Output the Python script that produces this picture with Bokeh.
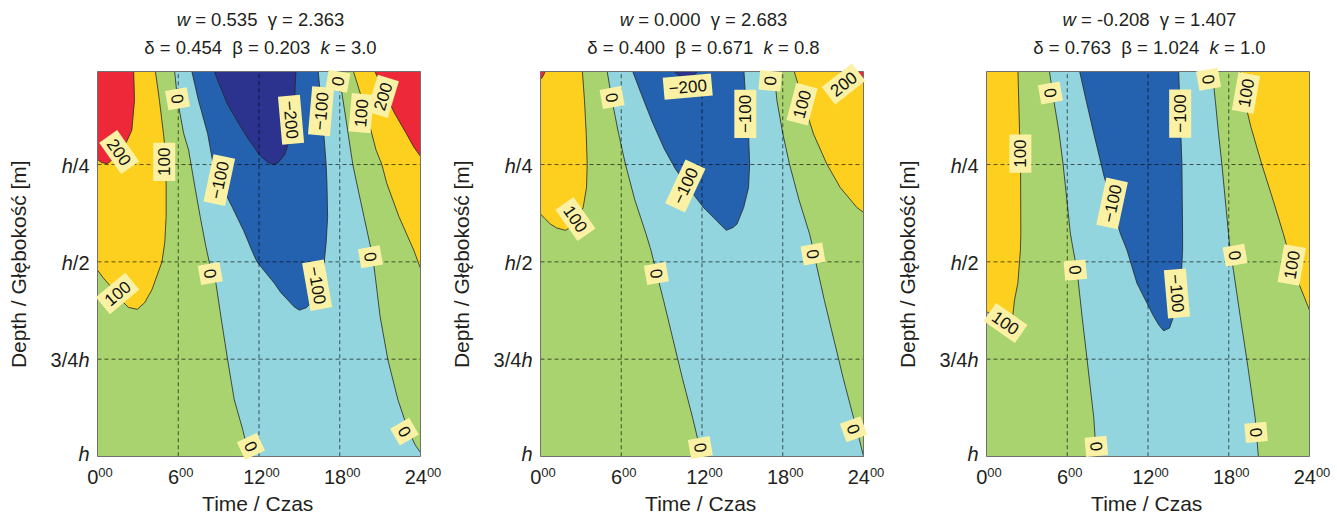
import math
from bokeh.plotting import figure
from bokeh.layouts import row
from bokeh.models import Range1d, Label
from bokeh.embed import file_html
from bokeh.resources import INLINE

# ---------------------------------------------------------------- data
# contour curves, (time [h], relative depth z/h) pairs
P1_R_LEFT = [(2.68, 0.0), (2.75, 0.085), (2.55, 0.162), (2.1, 0.196), (1.4, 0.228),
             (0.74, 0.248), (0.3, 0.245), (0.0, 0.237)]
P1_Y_LEFT = [(4.26, 0.0), (4.6, 0.085), (4.9, 0.17), (5.03, 0.213), (5.1, 0.3), (5.1, 0.384),
             (5.0, 0.45), (4.79, 0.5), (4.04, 0.572), (3.5, 0.605), (2.95, 0.622), (2.3, 0.617),
             (1.8, 0.6), (1.0, 0.564), (0.4, 0.54), (0.0, 0.521)]
P1_Z_LEFT = [(5.7, 0.0), (5.95, 0.085), (6.4, 0.17), (6.77, 0.213), (7.2, 0.3), (7.63, 0.384),
             (8.05, 0.46), (8.3, 0.5), (8.8, 0.555), (9.17, 0.641), (9.67, 0.752), (10.16, 0.854),
             (10.79, 0.931), (11.28, 1.0)]
P1_B_LOOP = [(6.94, 0.0), (7.5, 0.085), (8.18, 0.17), (8.6, 0.25), (9.3, 0.31), (9.99, 0.358),
             (10.86, 0.42), (11.46, 0.47), (11.85, 0.5), (12.55, 0.53), (13.14, 0.555),
             (13.6, 0.578), (14.14, 0.598), (14.6, 0.615), (15.0, 0.624), (15.5, 0.618),
             (16.1, 0.598), (16.5, 0.572), (16.7, 0.54), (16.85, 0.5), (16.99, 0.45),
             (17.1, 0.384), (17.05, 0.3), (16.99, 0.25), (16.7, 0.12), (16.37, 0.0)]
P1_N_LOOP = [(8.56, 0.0), (9.0, 0.04), (9.67, 0.096), (10.5, 0.145), (11.16, 0.182),
             (12.03, 0.225), (12.6, 0.243), (13.02, 0.25), (13.4, 0.246), (13.9, 0.225),
             (14.33, 0.182), (14.63, 0.096), (14.75, 0.0)]
P1_Z_RIGHT = [(17.86, 0.0), (18.4, 0.12), (18.97, 0.25), (19.4, 0.32), (19.8, 0.384),
              (20.34, 0.47), (20.5, 0.5), (20.7, 0.555), (21.0, 0.641), (21.58, 0.752),
              (22.32, 0.854), (23.07, 0.931), (23.6, 0.97), (24.0, 0.99)]
P1_Y_RIGHT = [(18.92, 0.0), (20.0, 0.12), (20.7, 0.213), (21.13, 0.25), (21.5, 0.299),
              (22.4, 0.384), (23.5, 0.47), (24.0, 0.517)]
P1_R_RIGHT = [(20.46, 0.0), (22.07, 0.118), (22.94, 0.17), (23.5, 0.205), (24.0, 0.229)]

P2_R_LEFT = [(0.45, 0.0), (0.3, 0.015), (0.12, 0.027), (0.0, 0.031)]
P2_Y_LEFT = [(3.09, 0.0), (3.27, 0.086), (3.4, 0.172), (3.47, 0.249), (3.42, 0.309),
             (3.17, 0.36), (2.6, 0.403), (1.86, 0.419), (1.2, 0.413), (0.74, 0.403),
             (0.3, 0.388), (0.0, 0.377)]
P2_Z_LEFT = [(4.9, 0.0), (5.32, 0.086), (5.8, 0.17), (6.31, 0.249), (7.0, 0.34), (7.85, 0.429),
             (8.22, 0.472), (8.42, 0.5), (9.15, 0.6), (9.85, 0.7), (10.55, 0.8), (11.3, 0.9),
             (11.99, 1.0)]
P2_B_LOOP = [(6.73, 0.0), (7.5, 0.07), (8.3, 0.14), (9.2, 0.21), (10.0, 0.26), (11.0, 0.31),
             (12.1, 0.36), (13.1, 0.395), (13.8, 0.419), (14.3, 0.412), (14.6, 0.403),
             (15.1, 0.36), (15.46, 0.309), (15.54, 0.249), (15.46, 0.172), (15.25, 0.086),
             (15.1, 0.0)]
P2_N_LOOP = [(9.6, 0.0), (10.2, 0.02), (10.8, 0.028), (11.4, 0.02), (12.0, 0.0)]
P2_Z_RIGHT = [(17.32, 0.0), (17.57, 0.086), (18.0, 0.17), (18.5, 0.249), (19.2, 0.34),
              (20.0, 0.429), (20.29, 0.472), (20.45, 0.5), (21.1, 0.6), (21.8, 0.7),
              (22.5, 0.8), (23.26, 0.9), (23.65, 0.95), (24.0, 1.0)]
P2_Y_RIGHT = [(18.76, 0.0), (19.5, 0.086), (20.29, 0.172), (21.28, 0.249), (22.27, 0.309),
              (23.5, 0.36), (24.0, 0.373)]
P2_R_RIGHT = [(21.4, 0.0), (22.3, 0.012), (23.2, 0.025), (24.0, 0.04)]

P3_Y_LEFT = [(2.33, 0.0), (2.46, 0.17), (2.53, 0.249), (2.55, 0.427), (2.52, 0.47),
             (2.33, 0.555), (2.08, 0.598), (1.95, 0.64), (1.6, 0.648), (1.0, 0.645),
             (0.5, 0.637), (0.0, 0.628)]
P3_Z_LEFT = [(4.63, 0.0), (5.0, 0.085), (5.4, 0.17), (5.69, 0.249), (6.0, 0.35), (6.23, 0.427),
             (6.45, 0.47), (6.73, 0.522), (7.1, 0.64), (7.47, 0.75), (7.97, 0.9), (8.16, 1.0)]
P3_B_LOOP = [(6.85, 0.0), (7.4, 0.085), (7.97, 0.17), (8.75, 0.282), (9.4, 0.36), (9.94, 0.427),
             (10.44, 0.47), (11.18, 0.555), (12.42, 0.64), (12.8, 0.662), (13.16, 0.677),
             (13.6, 0.67), (13.9, 0.64), (14.2, 0.6), (14.45, 0.555), (14.57, 0.47),
             (14.57, 0.427), (14.52, 0.249), (14.44, 0.17), (14.27, 0.0)]
P3_Z_RIGHT = [(16.74, 0.0), (17.0, 0.085), (17.24, 0.17), (17.49, 0.249), (17.98, 0.427),
              (18.1, 0.47), (18.35, 0.522), (18.85, 0.64), (19.34, 0.75), (19.96, 0.9),
              (20.2, 1.0)]
P3_Y_RIGHT = [(18.8, 0.0), (19.2, 0.09), (19.66, 0.155), (20.45, 0.249), (21.3, 0.342),
              (22.05, 0.427), (22.4, 0.47), (22.7, 0.51), (23.2, 0.555), (23.7, 0.598),
              (24.0, 0.624)]

# contour labels: (text, time, depth, angle in degrees)
P1_LABELS = [("0", 5.95, 0.081, -80), ("200", 1.61, 0.218, -55), ("100", 4.96, 0.243, 90),
             ("\u2212100", 9.05, 0.29, 78), ("\u2212200", 14.38, 0.135, -85),
             ("\u2212100", 16.61, 0.113, 85), ("0", 17.86, 0.036, 80), ("100", 19.59, 0.118, 85),
             ("200", 21.2, 0.075, 73), ("0", 8.38, 0.53, -80), ("\u2212100", 16.32, 0.56, -80),
             ("0", 20.28, 0.487, -80), ("100", 1.49, 0.581, 40), ("0", 11.4, 0.974, -65),
             ("0", 22.81, 0.936, -60)]
P2_LABELS = [("0", 5.32, 0.078, -80), ("\u2212200", 10.94, 0.05, 5), ("\u2212100", 15.22, 0.12, 90),
             ("0", 17.07, 0.035, 85), ("100", 19.43, 0.095, 75), ("200", 22.52, 0.043, 38),
             ("\u2212100", 10.76, 0.305, 65), ("100", 2.6, 0.39, -55), ("0", 8.61, 0.53, -80),
             ("0", 20.25, 0.48, -80), ("0", 11.88, 0.977, -80), ("0", 23.26, 0.93, -70)]
P3_LABELS = [("0", 4.75, 0.066, -80), ("100", 2.52, 0.222, 90), ("\u2212100", 14.39, 0.119, 90),
             ("0", 16.5, 0.031, -80), ("100", 19.28, 0.066, 80), ("\u2212100", 9.33, 0.35, 78),
             ("0", 6.6, 0.521, -85), ("\u2212100", 14.15, 0.581, -85), ("0", 18.47, 0.483, -80),
             ("100", 22.68, 0.508, 80), ("100", 1.41, 0.657, -35), ("0", 8.16, 0.974, -85),
             ("0", 20.03, 0.938, -85)]

P1_TITLE = ["*w* = 0.535  \u03b3 = 2.363", "\u03b4 = 0.454  \u03b2 = 0.203  *k* = 3.0"]
P2_TITLE = ["*w* = 0.000  \u03b3 = 2.683", "\u03b4 = 0.400  \u03b2 = 0.671  *k* = 0.8"]
P3_TITLE = ["*w* = -0.208  \u03b3 = 1.407", "\u03b4 = 0.763  \u03b2 = 1.024  *k* = 1.0"]

X_TICKS = [0, 6, 12, 18, 24]
X_TICK_MAIN = ["0", "6", "12", "18", "24"]
X_TICK_SUP = "00"
Y_TICKS = [0.25, 0.5, 0.75, 1.0]
Y_TICK_LABELS = [[("h", True), ("/4", False)], [("h", True), ("/2", False)],
                 [("3/4", False), ("h", True)], [("h", True)]]
X_GRID = [6, 12, 18]
Y_GRID = [0.25, 0.5, 0.75]
X_LABEL = "Time / Czas"
Y_LABEL = "Depth / G\u0142\u0119boko\u015b\u0107 [m]"

# ---------------------------------------------------------------- style
FONT = "Liberation Sans"
TXT = "#231f20"
C_RED, C_YEL, C_GRN = "#ED2838", "#FDD020", "#A8D36E"
C_CYN, C_BLU, C_NAV = "#92D5DE", "#2461AF", "#2B338E"
LABEL_BG = "#FAF1A5"

D_TOP = 0.011                       # depth shown at the top edge of each panel
PLOT_W, PLOT_H = 323, 385           # panel area in px
B_TOP, B_BOTTOM = 71, 59            # space above / below the panel area
PX_PER_D = PLOT_H / (1.0 - D_TOP)
PX_PER_T = PLOT_W / 24.0
MID = 0.35                          # baseline -> middle offset, in em

WID = {" ": 278, ".": 278, "-": 333, "=": 584, "/": 278, "h": 556, "w": 722, "k": 500,
       "\u03b3": 500, "\u03b4": 556, "\u03b2": 575, "\u2212": 584}


def tw(s, size):
    return sum(WID.get(c, 556) for c in s) * size / 1000.0


def d_at(rel_px):
    """depth coordinate of a point rel_px pixels below the panel's top edge"""
    return D_TOP + rel_px / PX_PER_D


def t_at(rel_px):
    return rel_px / PX_PER_T


def layout_line(line, size):
    tokens, x, cur, italic = [], 0.0, None, False
    for c in line:
        if c == "*":
            italic = not italic
            cur = None
            continue
        if c == " ":
            cur = None
        elif cur is not None and cur[2] == italic:
            cur[1] += c
        else:
            cur = [x, c, italic]
            tokens.append(cur)
        x += WID.get(c, 556) * size / 1000.0
    return tokens, x


def pts(seq):
    return [p[0] for p in seq], [p[1] for p in seq]


def txt(p, x, base_rel, s, size, align="left", italic=False):
    """text whose baseline lies base_rel px below the panel top"""
    p.add_layout(Label(x=x, y=d_at(base_rel - MID * size), text=s, text_align=align,
                       text_baseline="middle", text_font=FONT, text_font_size=f"{size}px",
                       text_color=TXT, text_font_style="italic" if italic else "normal"))


def make_panel(title, regions, curves, labels, bl, br):
    W = bl + PLOT_W + br
    H = B_TOP + PLOT_H + B_BOTTOM
    x0, x1 = -t_at(bl), 24 + t_at(br)
    y_top, y_bot = D_TOP - B_TOP / PX_PER_D, 1.0 + B_BOTTOM / PX_PER_D
    p = figure(width=W, height=H, x_range=Range1d(x0, x1), y_range=Range1d(y_bot, y_top),
               x_axis_location=None, y_axis_location=None, title=None,
               output_backend="svg", toolbar_location=None, min_border=0)
    p.grid.grid_line_color = None
    p.outline_line_color = None
    p.background_fill_color = "white"
    p.border_fill_color = "white"

    # filled contour bands
    p.quad(left=[0], right=[24], bottom=[1.0], top=[0.0], fill_color=C_GRN, line_color=None)
    for color, poly in regions:
        xs, ys = pts(poly)
        p.patch(xs, ys, fill_color=color, line_color=None)
    for c in curves:
        xs, ys = pts(c)
        p.line(xs, ys, line_color="#262626", line_width=0.8)

    # dashed grid
    p.multi_line([[t, t] for t in X_GRID], [[0.0, 1.0] for _ in X_GRID], line_color="black",
                 line_alpha=0.7, line_width=0.9, line_dash="4 3")
    p.multi_line([[0, 24] for _ in Y_GRID], [[d, d] for d in Y_GRID], line_color="black",
                 line_alpha=0.7, line_width=0.9, line_dash="4 3")

    # white band above the panel area, then the panel outline
    p.quad(left=[x0], right=[x1], top=[y_top], bottom=[D_TOP], fill_color="white",
           line_color=None)
    p.quad(left=[0], right=[24], top=[D_TOP], bottom=[1.0], fill_color=None,
           line_color="#707070", line_width=1)

    # contour labels
    for s, t, d, a in labels:
        p.add_layout(Label(x=t, y=d, text=s, angle=math.radians(a), text_align="center",
                           text_baseline="middle", text_font=FONT, text_font_size="17px",
                           text_color="#111111", background_fill_color=LABEL_BG,
                           background_fill_alpha=1.0, padding=5))

    # title (two lines, italic symbols)
    for line, base in zip(title, (-46.0, -17.7)):
        toks, total = layout_line(line, 18.5)
        for xp, s, it in toks:
            txt(p, 12 + t_at(-total / 2 + xp + 1.5), base, s, 18.5, italic=it)

    # x tick labels with superscript minutes
    for t, m in zip(X_TICKS, X_TICK_MAIN):
        w1, w2 = tw(m, 20), tw(X_TICK_SUP, 13)
        start = -(w1 + w2) / 2 + 2.5
        txt(p, t + t_at(start), 412.3, m, 20)
        txt(p, t + t_at(start + w1), 405.7, X_TICK_SUP, 13)

    # y tick labels
    for i, (d, segs) in enumerate(zip(Y_TICKS, Y_TICK_LABELS)):
        base = (d - D_TOP) * PX_PER_D + (4.7 if i == len(Y_TICKS) - 1 else 8.3)
        cum = 8.0
        for s, it in reversed(segs):
            txt(p, t_at(-cum), base, s, 20, align="right", italic=it)
            cum += tw(s, 20)

    # axis titles
    txt(p, 12 + t_at(-1.3), 439.0, X_LABEL, 21, align="center")
    p.add_layout(Label(x=t_at(-72 - MID * 21), y=d_at(192.7), text=Y_LABEL, angle=math.pi / 2,
                       text_align="center", text_baseline="middle", text_font=FONT,
                       text_font_size="21px", text_color=TXT))
    return p


TL, TR, BR = (0.0, 0.0), (24.0, 0.0), (24.0, 1.0)

p1 = make_panel(
    P1_TITLE,
    [(C_YEL, P1_Y_LEFT + [TL]), (C_YEL, P1_Y_RIGHT + [TR]),
     (C_RED, P1_R_LEFT + [TL]), (C_RED, P1_R_RIGHT + [TR]),
     (C_CYN, P1_Z_LEFT + [BR] + P1_Z_RIGHT[::-1]),
     (C_BLU, P1_B_LOOP), (C_NAV, P1_N_LOOP)],
    [P1_R_LEFT, P1_Y_LEFT, P1_Z_LEFT, P1_B_LOOP, P1_N_LOOP, P1_Z_RIGHT, P1_Y_RIGHT, P1_R_RIGHT],
    P1_LABELS, 97, 31)

p2 = make_panel(
    P2_TITLE,
    [(C_YEL, P2_Y_LEFT + [TL]), (C_YEL, P2_Y_RIGHT + [TR]),
     (C_RED, P2_R_LEFT + [TL]), (C_RED, P2_R_RIGHT + [TR]),
     (C_CYN, P2_Z_LEFT + [BR] + P2_Z_RIGHT[::-1]),
     (C_BLU, P2_B_LOOP), (C_NAV, P2_N_LOOP)],
    [P2_R_LEFT, P2_Y_LEFT, P2_Z_LEFT, P2_B_LOOP, P2_N_LOOP, P2_Z_RIGHT, P2_Y_RIGHT, P2_R_RIGHT],
    P2_LABELS, 89, 34)

p3 = make_panel(
    P3_TITLE,
    [(C_YEL, P3_Y_LEFT + [TL]), (C_YEL, P3_Y_RIGHT + [TR]),
     (C_CYN, P3_Z_LEFT + [BR] + P3_Z_RIGHT[::-1]),
     (C_BLU, P3_B_LOOP)],
    [P3_Y_LEFT, P3_Z_LEFT, P3_B_LOOP, P3_Z_RIGHT, P3_Y_RIGHT],
    P3_LABELS, 89, 27)

layout = row(p1, p2, p3)
open("out.html", "w").write(file_html(layout, INLINE))
